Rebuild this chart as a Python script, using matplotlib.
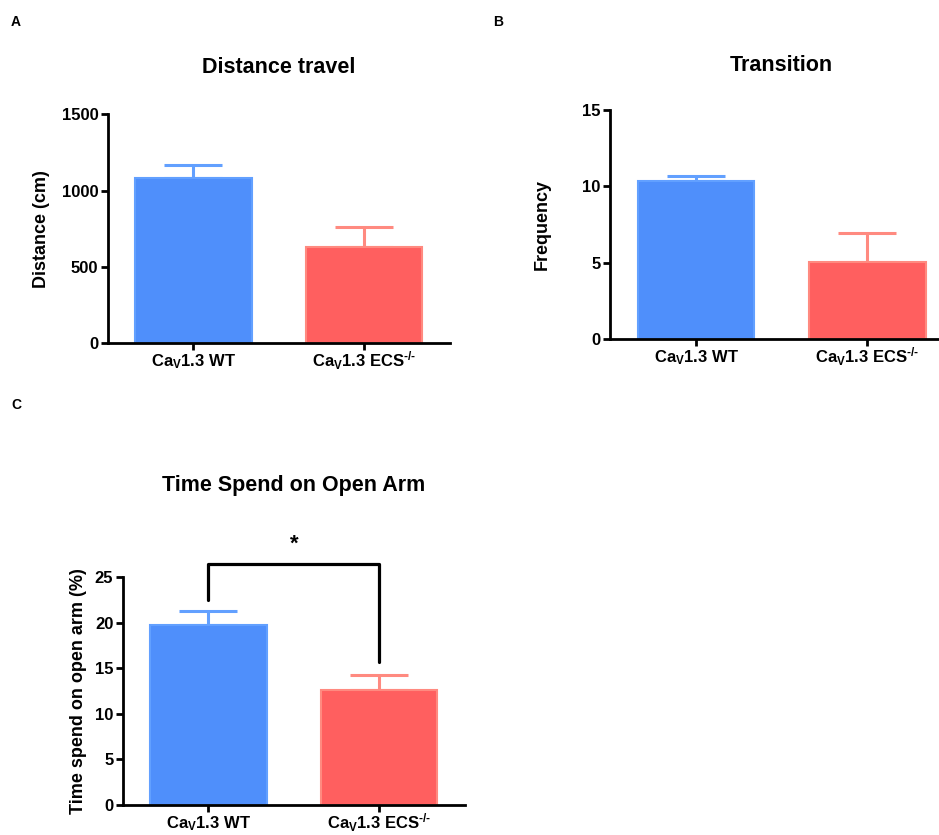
import matplotlib
matplotlib.use("Agg")
import matplotlib.pyplot as plt

plt.rcParams['font.family'] = ['Liberation Sans', 'DejaVu Sans']
plt.rcParams['font.weight'] = 'bold'
plt.rcParams['mathtext.fontset'] = 'custom'
plt.rcParams['mathtext.rm'] = 'Liberation Sans:bold'
plt.rcParams['mathtext.bf'] = 'Liberation Sans:bold'
plt.rcParams['mathtext.it'] = 'Liberation Sans:bold'

# data
groups = [r"Ca$_\mathbf{V}$1.3 WT", "Ca$_\\mathbf{V}$1.3 ECS$^\\mathbf{\u2010/\u2010}$"]
distance_mean = [1081, 629]
distance_err = [85, 131]
transition_mean = [10.35, 5.04]
transition_err = [0.33, 1.9]
openarm_mean = [19.7, 12.6]
openarm_err = [1.6, 1.65]

BLUE = "#4f8ffb"
BLUE_EDGE = "#62a0ff"
RED = "#ff5f5f"
RED_EDGE = "#ff8a80"


def bar_panel(ax, means, errs, title, ylabel, ymax, step, title_pad, lab_x):
    xs = [0, 1]
    cols = [BLUE, RED]
    edges = [BLUE_EDGE, RED_EDGE]
    for x, m, e, c, ec in zip(xs, means, errs, cols, edges):
        ax.bar(x, m, width=0.68, color=c, edgecolor=ec, linewidth=1.5, zorder=2)
        ax.errorbar(x, m, yerr=[[0], [e]], fmt='none', ecolor=ec,
                    elinewidth=2.2, capsize=21, capthick=2.2, zorder=1)
    ax.set_xlim(-0.5, 1.5)
    ax.set_ylim(0, ymax)
    ax.set_yticks(range(0, int(ymax) + 1, step))
    ax.set_xticks(xs)
    ax.set_xticklabels(groups, fontsize=12, fontweight='bold', va='baseline')
    ax.tick_params(axis='y', labelsize=12, width=2, length=5, pad=2)
    ax.tick_params(axis='x', width=2, length=5, pad=12)
    for t in ax.get_yticklabels():
        t.set_fontweight('bold')
    ax.spines['top'].set_visible(False)
    ax.spines['right'].set_visible(False)
    ax.spines['left'].set_linewidth(2)
    ax.spines['bottom'].set_linewidth(2)
    ax.set_title(title, fontsize=15.5, fontweight='bold', pad=title_pad)
    ax.set_ylabel(ylabel, fontsize=13, fontweight='bold')
    ax.yaxis.set_label_coords(lab_x, 0.5)


fig = plt.figure(figsize=(9.39, 8.35), dpi=100)

axA = fig.add_axes([0.115, 0.589, 0.364, 0.274])
bar_panel(axA, distance_mean, distance_err, "Distance travel", "Distance (cm)",
          1500, 500, 30, -0.17)

axB = fig.add_axes([0.650, 0.594, 0.365, 0.274])
bar_panel(axB, transition_mean, transition_err, "Transition", "Frequency",
          15, 5, 28, -0.175)

axC = fig.add_axes([0.131, 0.036, 0.364, 0.273])
bar_panel(axC, openarm_mean, openarm_err, "Time Spend on Open Arm",
          "Time spend on open arm (%)", 25, 5, 62, -0.105)

# significance bracket
axC.plot([0, 0, 1, 1], [22.5, 26.4, 26.4, 15.7], color='black', lw=2.3,
         clip_on=False, solid_joinstyle='round', solid_capstyle='round')
axC.text(0.5, 28.6, "*", ha='center', va='center', fontsize=16,
         fontweight='bold')

fig.text(0.017, 0.974, "A", fontsize=10, fontweight='bold', ha='center', va='center')
fig.text(0.531, 0.974, "B", fontsize=10, fontweight='bold', ha='center', va='center')
fig.text(0.017, 0.515, "C", fontsize=10, fontweight='bold', ha='center', va='center')

fig.savefig("out.png", dpi=100)
